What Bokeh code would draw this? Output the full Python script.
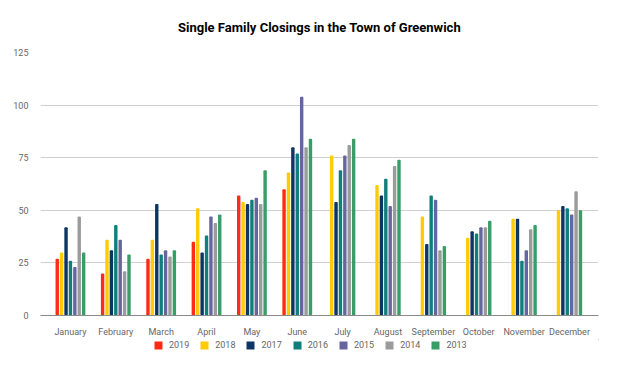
import math
from bokeh.plotting import figure
from bokeh.layouts import column
from bokeh.models import ColumnDataSource, Range1d, FixedTicker, Legend, LegendItem
from bokeh.embed import file_html
from bokeh.resources import INLINE

months = ["January", "February", "March", "April", "May", "June", "July",
          "August", "September", "October", "November", "December"]
years = ["2019", "2018", "2017", "2016", "2015", "2014", "2013"]
nan = float("nan")
v2019 = [27, 20, 27, 35, 57, 60, nan, nan, nan, nan, nan, nan]
v2018 = [30, 36, 36, 51, 54, 68, 76, 62, 47, 37, 46, 50]
v2017 = [42, 31, 53, 30, 53, 80, 54, 57, 34, 40, 46, 52]
v2016 = [26, 43, 29, 38, 55, 77, 69, 65, 57, 39, 26, 51]
v2015 = [23, 36, 31, 47, 56, 104, 76, 52, 55, 42, 31, 48]
v2014 = [47, 21, 28, 44, 53, 80, 81, 71, 31, 42, 41, 59]
v2013 = [30, 29, 31, 48, 69, 84, 84, 74, 33, 45, 43, 50]
series = [v2019, v2018, v2017, v2016, v2015, v2014, v2013]
colors = ["#FF2B16", "#FFCB05", "#0C3564", "#0F7F7C", "#66669E", "#9B9B9B", "#389D66"]
y_ticks = [0, 25, 50, 75, 100, 125]

FONT = "Roboto"
step = 0.097
bar_w = 0.075

p = figure(width=607, height=339, output_backend="svg", toolbar_location=None,
           x_range=Range1d(-0.66, 11.64), y_range=Range1d(0, 125),
           min_border_left=40, min_border_right=9, min_border_top=51,
           min_border_bottom=24)

p.title.text = "Single Family Closings in the Town of Greenwich"
p.title.align = "center"
p.title.text_font = FONT
p.title.text_font_size = "13px"
p.title.text_font_style = "bold"
p.title.text_color = "#000000"
p.title.standoff = 35

# compute dodged positions per month
xs = {y: [] for y in years}
tops = {y: [] for y in years}
for m in range(len(months)):
    present = [k for k in range(len(years)) if not math.isnan(series[k][m])]
    n = len(present)
    for i, k in enumerate(present):
        xs[years[k]].append(m + (i - (n - 1) / 2) * step)
        tops[years[k]].append(series[k][m])

for k, yr in enumerate(years):
    src = ColumnDataSource(dict(x=xs[yr], top=tops[yr]))
    p.vbar(x="x", top="top", width=bar_w, bottom=0, source=src,
           fill_color=colors[k], line_color=None, border_radius=1)

p.xaxis.ticker = FixedTicker(ticks=list(range(len(months))))
p.xaxis.major_label_overrides = {i: m for i, m in enumerate(months)}
p.xaxis.major_tick_line_color = None
p.xaxis.minor_tick_line_color = None
p.xaxis.axis_line_color = "#8a8a8a"
p.xaxis.major_label_text_font = FONT
p.xaxis.major_label_text_font_size = "9px"
p.xaxis.major_label_text_color = "#666666"
p.xaxis.major_label_standoff = 5

p.yaxis.ticker = FixedTicker(ticks=y_ticks)
p.yaxis.major_tick_line_color = None
p.yaxis.minor_tick_line_color = None
p.yaxis.axis_line_color = None
p.yaxis.major_label_text_font = FONT
p.yaxis.major_label_text_font_size = "9px"
p.yaxis.major_label_text_color = "#666666"
p.yaxis.major_label_standoff = 6

p.xgrid.grid_line_color = None
p.ygrid.grid_line_color = "#d0d0d0"
p.outline_line_color = None

# legend strip below the chart (its own swatch renderers sit outside its ranges)
pl = figure(width=607, height=16, output_backend="svg", toolbar_location=None,
            x_range=Range1d(0, 1), y_range=Range1d(0, 1),
            x_axis_location=None, y_axis_location=None,
            min_border_left=0, min_border_right=0, min_border_top=0,
            min_border_bottom=0)
pl.grid.visible = False
pl.outline_line_color = None
items = []
for k, yr in enumerate(years):
    r = pl.vbar(x=[5], top=[5], bottom=4, width=0.1, fill_color=colors[k],
                line_color=None)
    items.append(LegendItem(label=yr, renderers=[r]))
legend = Legend(items=items, orientation="horizontal", location=(113, 5),
                glyph_width=10, glyph_height=10, label_standoff=6, spacing=10,
                label_text_font=FONT, label_text_font_size="9px",
                label_text_color="#666666", border_line_color=None,
                background_fill_alpha=0, padding=0, margin=0, label_height=10)
pl.add_layout(legend)

open("out.html", "w").write(file_html(column(p, pl, spacing=0), INLINE))
